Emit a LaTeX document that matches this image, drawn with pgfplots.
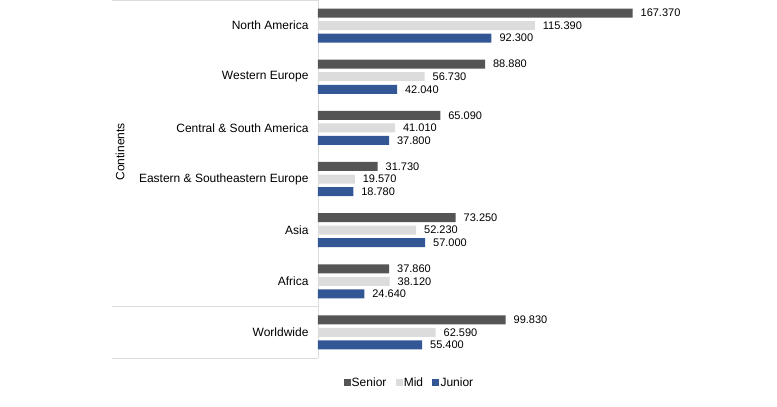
\documentclass[border=0pt]{standalone}
\usepackage{fontspec}
\setmainfont{Liberation Sans}
\usepackage{pgfplots}
\pgfplotsset{compat=1.18}
\definecolor{cSenior}{RGB}{85,85,85}
\definecolor{cMid}{RGB}{220,220,220}
\definecolor{cJunior}{RGB}{50,87,148}
\definecolor{cLine}{RGB}{220,220,220}
\begin{document}
\begin{tikzpicture}[font=\fontsize{12}{14}\selectfont]
\path[use as bounding box] (0,0) rectangle (777pt,407pt);
\begin{axis}[
  at={(318pt,49pt)}, anchor=south west,
  scale only axis, width=400pt, height=358pt,
  xbar, xmin=0, xmax=212.8,
  ymin=-0.5, ymax=6.5, y dir=reverse,
  ytick={0,...,6},
  yticklabels={North America,Western Europe,Central \& South America,Eastern \& Southeastern Europe,Asia,Africa,Worldwide},
  major tick length=0pt,
  yticklabel style={xshift=-6pt},
  axis x line=none, axis y line=left,
  y axis line style={-, cLine, line width=0.8pt},
  bar width=0.176,
  clip=false,
  point meta=explicit symbolic,
  nodes near coords,
  nodes near coords style={anchor=west, xshift=4.5pt, font=\fontsize{11}{13}\selectfont, text=black},
  legend columns=-1,
  legend style={draw=none, at={(axis description cs:0.2275,-0.0698)}, anchor=center,
    /tikz/every even column/.append style={column sep=8pt}, inner sep=0pt,
    nodes={inner sep=1.2pt}},
  legend image code/.code={\fill[#1] (0pt,-3.5pt) rectangle (7pt,3.5pt);},
]
\addplot[fill=cSenior, draw=none, bar shift=-0.245] coordinates {
  (167.370,0) [167.370] (88.880,1) [88.880] (65.090,2) [65.090] (31.730,3) [31.730]
  (73.250,4) [73.250] (37.860,5) [37.860] (99.830,6) [99.830]};
\addplot[fill=cMid, draw=none, bar shift=0] coordinates {
  (115.390,0) [115.390] (56.730,1) [56.730] (41.010,2) [41.010] (19.570,3) [19.570]
  (52.230,4) [52.230] (38.120,5) [38.120] (62.590,6) [62.590]};
\addplot[fill=cJunior, draw=none, bar shift=0.245] coordinates {
  (92.300,0) [92.300] (42.040,1) [42.040] (37.800,2) [37.800] (18.780,3) [18.780]
  (57.000,4) [57.000] (24.640,5) [24.640] (55.400,6) [55.400]};
\legend{Senior,Mid,Junior}
\draw[cLine, line width=0.8pt] (axis cs:0,-0.5) -- ([xshift=-206pt]axis cs:0,-0.5);
\draw[cLine, line width=0.8pt] (axis cs:0,5.5) -- ([xshift=-206pt]axis cs:0,5.5);
\draw[cLine, line width=0.8pt] (axis cs:0,6.5) -- ([xshift=-206pt]axis cs:0,6.5);
\node[rotate=90] at ([xshift=-198pt]axis cs:0,2.47) {Continents};
\end{axis}
\end{tikzpicture}
\end{document}
